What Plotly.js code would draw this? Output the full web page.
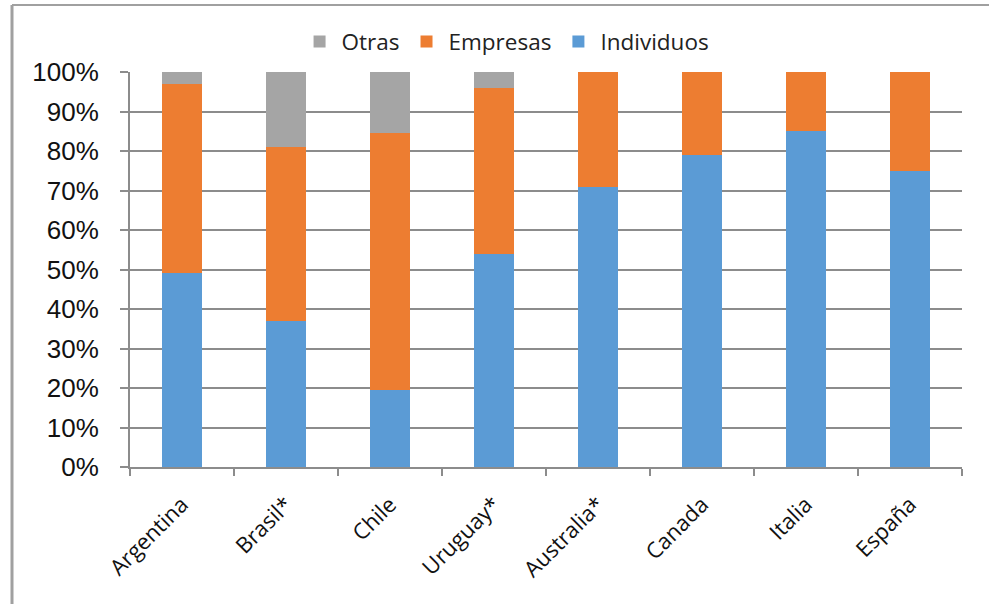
<!DOCTYPE html>
<html>
<head>
<meta charset="utf-8">
<script src="https://cdn.plot.ly/plotly-3.0.1.min.js"></script>
<style>
  html, body { margin: 0; padding: 0; background: #fff; }
  #chart { width: 989px; height: 604px; }
</style>
</head>
<body>
<div id="chart"></div>
<script>
// Categories (countries) along the x axis
const paises = ['Argentina', 'Brasil*', 'Chile', 'Uruguay*', 'Australia*', 'Canada', 'Italia', 'España'];

// Share of each group, in percent
const individuos = [49, 37, 19.5, 54, 71, 79, 85, 75];
const empresas   = [48, 44, 65, 42, 29, 21, 15, 25];
const otras      = [3, 19, 15.5, 4, 0, 0, 0, 0];

// Y axis tick values and labels
const yTicks = [0, 10, 20, 30, 40, 50, 60, 70, 80, 90, 100];
const yLabels = yTicks.map(v => v + '%');

const gris = '#A5A5A5';
const naranja = '#ED7D31';
const azul = '#5B9BD5';
const linea = '#8C8C8C';

const traces = [
  { type: 'bar', name: 'Individuos', x: paises, y: individuos, marker: { color: azul } },
  { type: 'bar', name: 'Empresas',   x: paises, y: empresas,   marker: { color: naranja } },
  { type: 'bar', name: 'Otras',      x: paises, y: otras,      marker: { color: gris } }
];

// Plot area in pixels, used to place the outer frame lines
const L = 130, R = 962, T = 72, B = 467;
const px = v => (v - L) / (R - L);
const py = v => (B - v) / (B - T);

const layout = {
  width: 989,
  height: 604,
  margin: { l: L, r: 989 - R, t: T, b: 604 - B, pad: 0 },
  paper_bgcolor: '#fff',
  plot_bgcolor: '#fff',
  barmode: 'stack',
  bargap: 0.61,
  showlegend: true,
  legend: {
    orientation: 'h',
    traceorder: 'reversed',
    x: 0.452, xanchor: 'center',
    y: 1.076, yanchor: 'middle',
    itemwidth: 34,
    font: { family: 'Open Sans, sans-serif', size: 22.5, color: '#222' },
    itemclick: false,
    bgcolor: 'rgba(0,0,0,0)'
  },
  xaxis: {
    type: 'category',
    showline: true, linecolor: linea, linewidth: 2,
    ticks: 'outside', tickson: 'boundaries', ticklen: 7, tickwidth: 2, tickcolor: linea,
    tickangle: -45,
    ticklabelstandoff: 14,
    tickfont: { family: 'Open Sans, sans-serif', size: 22, color: '#111' },
    showgrid: false,
    zeroline: false,
    fixedrange: true
  },
  yaxis: {
    range: [0, 100],
    tickvals: yTicks,
    ticktext: yLabels,
    showline: true, linecolor: linea, linewidth: 2,
    ticks: 'outside', ticklen: 8, tickwidth: 2, tickcolor: linea,
    ticklabelstandoff: 16,
    tickfont: { family: 'Liberation Sans, Arial, sans-serif', size: 26, color: '#111' },
    showgrid: true, gridcolor: linea, gridwidth: 2,
    zeroline: false,
    fixedrange: true
  },
  shapes: [
    { type: 'line', xref: 'paper', yref: 'paper', x0: px(12), x1: px(992), y0: py(5), y1: py(5),
      line: { color: '#A0A0A0', width: 2 } },
    { type: 'line', xref: 'paper', yref: 'paper', x0: px(12), x1: px(12), y0: py(5), y1: py(610),
      line: { color: '#A0A0A0', width: 3 } }
  ]
};

Plotly.newPlot('chart', traces, layout, { displayModeBar: false, staticPlot: true });
</script>
</body>
</html>
